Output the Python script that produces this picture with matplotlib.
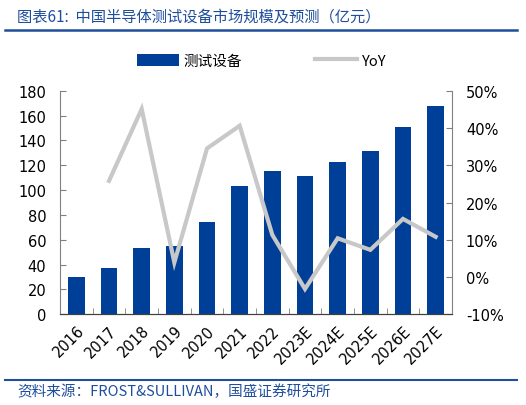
import matplotlib.pyplot as plt
from matplotlib.lines import Line2D
from matplotlib.patches import Patch
import numpy as np

plt.rcParams['font.family'] = ['DejaVu Sans', 'Noto Sans CJK SC']

years = ['2016', '2017', '2018', '2019', '2020', '2021', '2022',
         '2023E', '2024E', '2025E', '2026E', '2027E']
market = [30, 37.2, 53.3, 55.2, 74, 103.4, 115, 111.2, 122.7, 131.5, 151.1, 167.7]
yoy = [None, 25.8, 45.1, 3.9, 34.5, 40.6, 11.3, -3.2, 10.4, 7.3, 15.6, 10.8]

bar_color = '#003f98'
line_color = '#c8c8c8'
blue_text = '#1f4e9c'
cjk = ['Noto Sans CJK SC', 'DejaVu Sans']

fig = plt.figure(figsize=(5.26, 4.06), dpi=100)
ax = fig.add_axes([0.1141, 0.2234, 0.7452, 0.5507])
ax2 = ax.twinx()

x = np.arange(len(years))
ax.bar(x, market, width=0.51, color=bar_color, zorder=2)

yx = [i for i, v in enumerate(yoy) if v is not None]
yv = [v for v in yoy if v is not None]
ax2.plot(yx, yv, color=line_color, linewidth=3, solid_joinstyle='miter', zorder=3)

ax.set_zorder(ax2.get_zorder() - 1)
ax.patch.set_visible(False)

ax.set_xlim(-0.5, len(years) - 0.5)
ax.set_ylim(0, 180)
ax.set_yticks(range(0, 181, 20))
ax2.set_ylim(-10, 50)
ax2.set_yticks(range(-10, 51, 10))
ax2.set_yticklabels([f'{v}%' for v in range(-10, 51, 10)])

ax.set_xticks(x)
ax.set_xticklabels(years, rotation=45, ha='right', rotation_mode='anchor')
ax.set_xticks(np.arange(-0.5, len(years), 1), minor=True)
ax.tick_params(axis='x', which='major', length=0, pad=6, labelsize=10.5)
ax.tick_params(axis='x', which='minor', direction='in', length=4, color='#808080')
ax.tick_params(axis='y', length=4, direction='in', color='#808080', labelsize=10.5, pad=10)
ax2.tick_params(axis='y', length=4, direction='in', color='#808080', labelsize=10.5, pad=10)

for a in (ax, ax2):
    a.spines['top'].set_visible(False)
    a.spines['left'].set_color('#808080')
    a.spines['right'].set_color('#808080')
    a.spines['bottom'].set_color('#404040')
ax2.spines['left'].set_visible(False)
ax.spines['right'].set_visible(False)

handles = [Patch(facecolor=bar_color, edgecolor='none'),
           Line2D([0], [0], color=line_color, linewidth=3)]
fig.legend(handles, ['测试设备', 'YoY'], loc='center', bbox_to_anchor=(0.497, 0.848),
           ncol=2, frameon=False, handlelength=2.9, handleheight=0.9,
           handletextpad=0.3, columnspacing=5.0, prop={'family': cjk, 'size': 10.5})

fig.text(0.032, 0.958, '图表61:  中国半导体测试设备市场规模及预测（亿元）', color=blue_text,
         fontsize=11, family=cjk, va='center', ha='left', style='italic')
fig.add_artist(Line2D([0.01, 0.983], [0.923, 0.923], color='#1f4e9c', linewidth=1.8))
fig.add_artist(Line2D([0.01, 0.983], [0.062, 0.062], color='#1f4e9c', linewidth=1.5))
fig.text(0.032, 0.035, '资料来源：FROST&SULLIVAN，国盛证券研究所', color=blue_text,
         fontsize=10.5, family=cjk, va='center', ha='left', style='italic')

fig.savefig('out.png', dpi=100)
